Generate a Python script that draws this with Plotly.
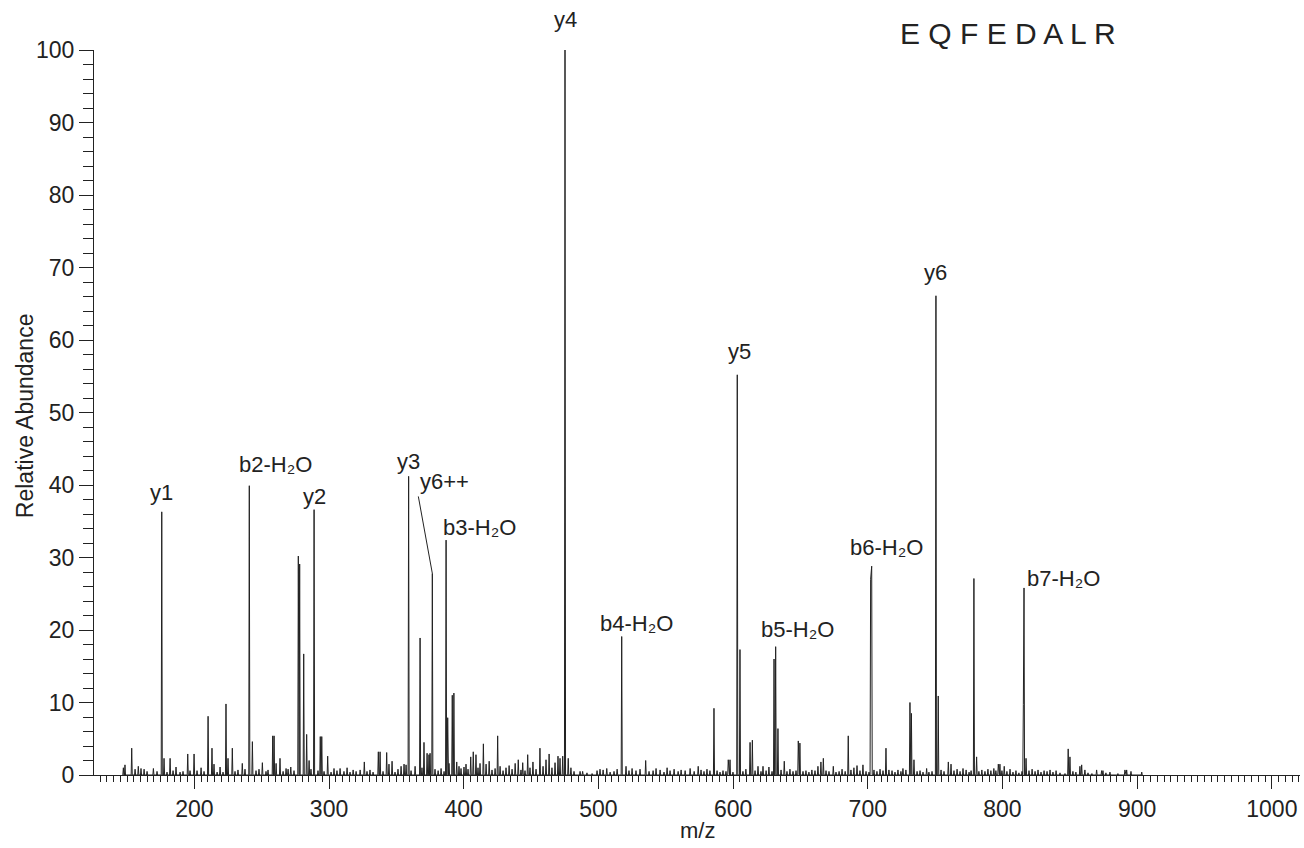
import plotly.graph_objects as go

# ---- data ----
mz = [147.3, 148.5, 153.5, 156.0, 158.4, 160.4, 162.7, 164.9, 169.6, 172.3, 175.8, 177.5, 179.7, 182.0,
      184.2, 186.4, 189.4, 191.6, 195.1, 196.8, 199.8, 202.0, 205.0, 207.2, 210.2, 213.1, 214.6, 216.9,
      219.1, 221.3, 223.5, 225.0, 228.2, 230.2, 232.4, 235.6, 237.6, 240.8, 243.1, 245.8, 248.0, 250.5,
      253.2, 254.7, 258.2, 259.2, 260.7, 263.6, 265.9, 268.1, 269.6, 271.6, 274.0, 277.2, 278.2, 281.2,
      283.4, 285.2, 286.6, 288.9, 291.8, 293.5, 294.6, 296.3, 299.0, 301.5, 303.7, 305.9, 308.2, 311.1,
      313.4, 315.6, 317.9, 320.1, 323.1, 326.2, 328.2, 330.4, 332.7, 336.6, 337.9, 340.1, 342.8, 344.5,
      346.8, 349.0, 351.2, 353.5, 355.7, 357.2, 359.1, 360.9, 363.9, 367.6, 369.0, 370.5, 372.8, 374.2,
      375.0, 376.7, 378.7, 381.0, 383.2, 385.4, 386.9, 388.1, 389.1, 391.5, 392.7, 394.8, 396.5, 398.0,
      400.2, 401.7, 403.2, 405.2, 407.1, 409.1, 410.6, 412.1, 414.6, 416.6, 418.9, 421.0, 423.3, 425.2,
      427.0, 429.2, 431.4, 433.7, 435.9, 438.2, 440.5, 442.5, 443.8, 445.5, 447.5, 449.2, 451.4, 453.7,
      456.6, 458.9, 461.1, 463.4, 465.5, 467.8, 470.0, 471.5, 473.5, 475.2, 477.6, 479.6, 481.9, 486.4,
      488.3, 491.5, 495.3, 499.0, 501.2, 503.5, 506.2, 508.7, 511.6, 513.9, 517.3, 520.5, 522.7, 525.0,
      527.9, 530.9, 535.1, 537.6, 540.6, 542.8, 545.8, 548.7, 551.0, 553.2, 556.2, 559.2, 561.4, 564.4,
      568.1, 571.1, 574.1, 576.2, 578.4, 580.6, 582.8, 585.8, 588.1, 590.3, 592.5, 594.7, 596.4, 597.7,
      599.9, 603.1, 605.1, 607.3, 609.5, 612.6, 614.3, 616.3, 618.5, 620.7, 622.2, 624.5, 626.6, 628.9,
      630.4, 631.6, 633.3, 635.6, 638.0, 640.0, 642.2, 644.5, 646.7, 648.4, 649.6, 651.9, 654.1, 656.3,
      658.5, 660.8, 663.0, 665.2, 667.0, 669.0, 671.2, 674.4, 676.4, 678.7, 680.9, 683.2, 685.5, 687.5,
      689.7, 692.0, 694.2, 696.4, 698.7, 700.9, 702.1, 702.9, 704.6, 706.8, 709.1, 711.3, 713.5, 715.7,
      718.0, 720.2, 722.4, 724.6, 726.1, 728.3, 731.3, 732.4, 734.3, 736.6, 738.8, 741.0, 743.7, 745.4,
      747.7, 750.6, 752.3, 754.4, 756.6, 759.8, 761.8, 764.0, 766.3, 768.5, 770.7, 773.0, 775.2, 776.7,
      778.8, 780.8, 782.5, 784.7, 787.0, 789.2, 791.4, 793.6, 795.1, 796.9, 798.1, 799.6, 801.3, 803.3,
      805.6, 807.8, 810.0, 812.2, 814.5, 815.5, 816.0, 817.5, 819.7, 822.0, 824.2, 826.4, 828.6, 830.9,
      833.1, 835.3, 837.5, 839.8, 842.7, 846.4, 848.8, 850.1, 852.3, 854.5, 857.5, 858.8, 861.2, 863.5,
      866.4, 869.9, 873.6, 874.6, 876.8, 879.8, 885.7, 890.9, 892.2, 895.4, 903.4]
intensity = [1.0, 1.4, 3.7, 0.8, 1.2, 0.9, 0.8, 0.5, 0.9, 0.5, 36.3, 2.3, 0.4, 2.3,
             0.6, 1.1, 0.4, 0.5, 2.9, 0.6, 2.9, 0.6, 1.0, 0.5, 8.1, 3.7, 1.5, 0.4,
             1.1, 0.4, 9.8, 2.3, 3.7, 0.5, 0.7, 1.6, 0.8, 39.9, 4.6, 0.6, 0.8, 1.7,
             0.5, 0.7, 5.4, 5.4, 1.6, 2.3, 0.5, 0.9, 0.8, 1.1, 0.6, 30.2, 29.1, 16.7,
             5.6, 2.0, 0.8, 36.6, 0.6, 5.3, 5.3, 0.5, 2.6, 0.4, 0.9, 0.6, 0.9, 0.5,
             1.0, 0.4, 0.7, 0.5, 0.7, 1.8, 0.5, 0.7, 0.4, 3.2, 3.2, 0.5, 3.1, 1.5,
             1.9, 0.4, 0.8, 1.2, 1.5, 1.4, 41.2, 0.6, 1.2, 18.9, 1.0, 4.5, 3.0, 2.8,
             3.0, 27.8, 0.8, 0.6, 0.9, 0.5, 32.4, 7.9, 1.6, 11.0, 11.3, 1.8, 1.2, 0.9,
             1.1, 1.5, 0.8, 2.5, 3.2, 2.8, 1.0, 1.6, 4.3, 1.5, 1.9, 0.7, 0.9, 5.4,
             1.2, 0.6, 1.0, 1.3, 0.8, 1.6, 2.1, 0.7, 1.7, 0.6, 2.8, 1.0, 1.8, 0.8,
             3.7, 1.2, 2.1, 2.9, 1.0, 1.7, 2.6, 2.3, 2.6, 100.0, 2.3, 1.0, 0.5, 0.5,
             0.5, 0.3, 0.2, 0.6, 0.8, 0.7, 0.9, 0.4, 0.5, 0.8, 19.1, 1.2, 0.6, 0.9,
             0.6, 0.8, 2.0, 0.5, 0.6, 0.9, 0.7, 0.4, 1.0, 0.6, 0.8, 0.5, 0.7, 0.6,
             0.9, 0.5, 1.2, 0.7, 0.5, 0.8, 0.6, 9.2, 0.6, 0.4, 0.6, 0.5, 2.1, 2.1,
             0.4, 55.2, 17.3, 0.5, 0.8, 4.5, 4.8, 0.6, 1.2, 0.5, 1.2, 0.6, 1.1, 0.5,
             16.0, 17.7, 6.4, 0.7, 1.9, 0.5, 0.8, 0.5, 0.6, 4.7, 4.4, 0.5, 0.6, 0.4,
             0.7, 0.6, 1.2, 1.8, 2.3, 0.6, 0.5, 1.2, 0.4, 0.5, 0.8, 0.5, 5.4, 0.7,
             1.0, 1.3, 0.6, 1.4, 0.5, 0.4, 27.0, 28.8, 0.7, 0.5, 0.8, 0.6, 3.7, 0.7,
             0.6, 0.4, 0.7, 0.5, 0.9, 0.7, 10.0, 8.5, 2.1, 0.5, 0.6, 0.4, 0.9, 0.4,
             0.5, 66.1, 10.9, 0.7, 0.5, 1.8, 1.5, 0.6, 0.8, 0.5, 0.9, 0.7, 0.4, 0.6,
             27.1, 2.5, 0.5, 0.7, 0.5, 0.8, 0.6, 0.9, 0.6, 1.5, 1.5, 0.6, 1.2, 0.5,
             0.8, 0.4, 0.6, 0.3, 0.5, 9.7, 25.8, 2.3, 0.6, 0.8, 0.5, 0.7, 0.4, 0.6,
             0.5, 0.7, 0.4, 0.6, 0.3, 0.2, 3.6, 2.5, 0.5, 0.4, 1.2, 1.4, 0.7, 0.3,
             0.2, 0.7, 0.6, 0.6, 0.3, 0.4, 0.2, 0.7, 0.7, 0.5, 0.4]

ion_labels = ["y1", "b2-H₂O", "y2", "y3", "y6++", "b3-H₂O", "y4",
              "b4-H₂O", "y5", "b5-H₂O", "b6-H₂O", "y6", "b7-H₂O"]
ion_mz = [175.8, 240.8, 288.9, 359.1, 376.7, 386.9, 475.2, 517.3, 603.1, 631.6, 702.9, 750.6, 816.0]

peptide = "E Q F E D A L R"
x_ticks = [200, 300, 400, 500, 600, 700, 800, 900, 1000]
y_ticks = [0, 10, 20, 30, 40, 50, 60, 70, 80, 90, 100]

# ---- label placement (pixel offsets: dx, dy above peak top) ----
label_style = {
    "y1": (0, 19), "b2-H₂O": (26, 21), "y2": (0, 13), "y3": (0, 15),
    "b3-H₂O": (33, 13), "y4": (0, 31), "b4-H₂O": (15, 13),
    "y5": (2, 23), "b5-H₂O": (22, 17), "b6-H₂O": (15, 19),
    "y6": (0, 23), "b7-H₂O": (39, 9),
}

# build a narrow profile trace from the peak list
px, py = [], []
half = 0.4
prev = None
for m, h in sorted(zip(mz, intensity)):
    if prev is None or m - prev > 2 * half:
        if prev is not None:
            px.append(prev + half); py.append(0)
        px.append(m - half); py.append(0)
    px.append(m); py.append(h)
    prev = m
px.append(prev + half); py.append(0)

FONT = "Arial, 'Liberation Sans', Helvetica, 'DejaVu Sans', sans-serif"
INK = "#222222"
LABEL_SIZE = 22

fig = go.Figure()
fig.add_trace(go.Scatter(x=px, y=py, mode="lines", line=dict(color=INK, width=1),
                         hoverinfo="skip", showlegend=False))

peak_height = dict(zip(mz, intensity))
annotations = []
for lab, m in zip(ion_labels, ion_mz):
    h = peak_height[m]
    if lab == "y6++":
        annotations.append(dict(x=m, y=h, xref="x", yref="y", text=lab, showarrow=True,
                                arrowhead=0, arrowwidth=1, arrowcolor=INK, standoff=0,
                                ax=-14, ay=-77, xanchor="left", yanchor="bottom",
                                font=dict(family=FONT, size=LABEL_SIZE, color=INK)))
    else:
        dx, dy = label_style[lab]
        annotations.append(dict(x=m, y=h, xref="x", yref="y", text=lab, showarrow=False,
                                xanchor="center", yanchor="middle", xshift=dx, yshift=dy,
                                font=dict(family=FONT, size=LABEL_SIZE, color=INK)))
annotations.append(dict(x=0.7575, y=1.0234, xref="paper", yref="paper", text=peptide,
                        showarrow=False, xanchor="center", yanchor="middle",
                        font=dict(family=FONT, size=30, color=INK)))
annotations.append(dict(x=-0.0572, y=0.495, xref="paper", yref="paper", text="Relative Abundance",
                        showarrow=False, textangle=-90, xanchor="center", yanchor="middle",
                        font=dict(family=FONT, size=23, color=INK)))
annotations.append(dict(x=0.5, y=-0.076, xref="paper", yref="paper", text="m/z",
                        showarrow=False, xanchor="center", yanchor="middle",
                        font=dict(family=FONT, size=22, color=INK)))

fig.update_layout(
    width=1304, height=848,
    margin=dict(l=94, r=4, t=50, b=73),
    paper_bgcolor="white", plot_bgcolor="white",
    annotations=annotations,
    xaxis=dict(range=[125.5, 1020.9], tickvals=x_ticks, ticks="outside", ticklen=13, tickwidth=1,
               tickcolor=INK, showline=True, linecolor=INK, linewidth=1, showgrid=False,
               zeroline=False, tickfont=dict(family=FONT, size=23, color=INK),
               minor=dict(dtick=5, tick0=0, ticks="outside", ticklen=6, tickcolor=INK, showgrid=False)),
    yaxis=dict(range=[0, 100], tickvals=y_ticks, ticks="outside", ticklen=14, tickwidth=1,
               tickcolor=INK, showline=True, linecolor=INK, linewidth=1, showgrid=False,
               zeroline=False, tickfont=dict(family=FONT, size=23, color=INK),
               minor=dict(dtick=2, tick0=0, ticks="outside", ticklen=10, tickcolor=INK, showgrid=False)),
)

fig.write_html("out.html")
